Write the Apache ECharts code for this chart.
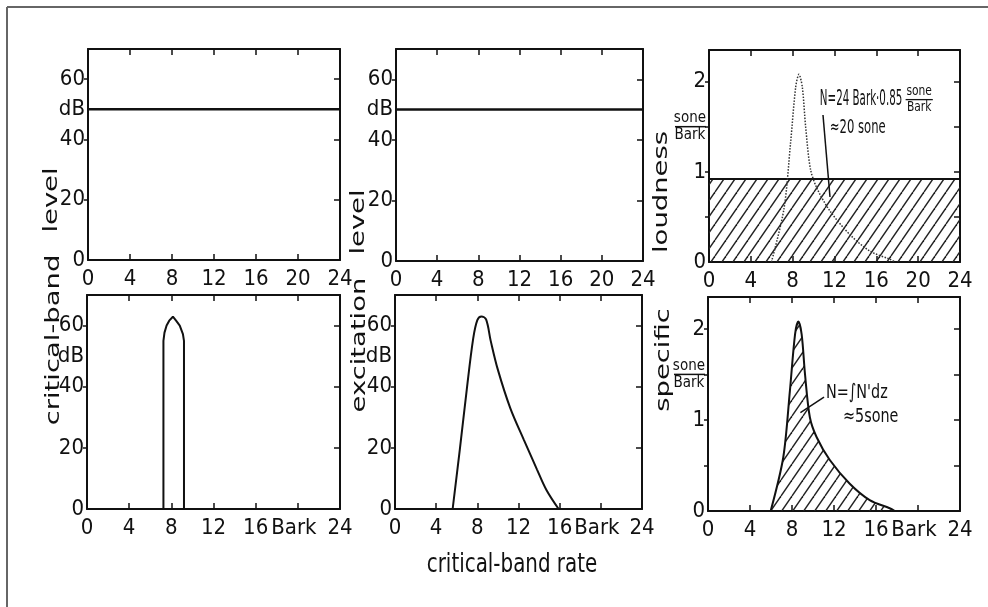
<!DOCTYPE html>
<html>
<head>
<meta charset="utf-8">
<script src="https://cdn.jsdelivr.net/npm/echarts@6/dist/echarts.min.js"></script>
<style>
  html, body { margin: 0; padding: 0; background: #fff; }
  #chart { width: 988px; height: 607px; }
</style>
</head>
<body>
<div id="chart"></div>
<script>
// critical-band rate axis (Bark)
var barkMin = 0, barkMax = 24, barkStep = 4;
var dbTicks = [20, 40, 60];
var dbLabels = [0, 20, 40, 50, 60];
var soneTicks = [0.5, 1, 1.5, 2];
var soneLabels = [0, 1, 1.5, 2];

// uniform exciting noise: flat level / excitation / specific loudness
var flatZ = [0, 24];
var flatDb = [50, 50];
var uniformN = [0.92, 0.92];

// narrow band noise: critical-band level
var bandZ = [7.25, 7.25, 7.35, 7.55, 7.8, 8.15, 8.45, 8.8, 9.1, 9.2, 9.2];
var bandDb = [0, 55, 57.7, 60, 61.6, 62.9, 61.6, 60, 57.2, 55, 0];

// narrow band noise: excitation level
var excZ = [5.6, 6.3, 6.97, 7.6, 8.0, 8.4, 8.85, 9.3, 10.0, 11.2, 12.5, 13.8, 14.7, 15.9];
var excDb = [0, 19.5, 39, 55.8, 61.8, 63, 62, 55, 45.5, 33, 22.8, 12.9, 6.3, 0];

// narrow band noise: specific loudness
var specZ = [5.97, 7.17, 7.8, 8.29, 8.6, 8.92, 9.24, 9.7, 10.35, 11.6, 13.5, 15.4, 17.3, 17.8];
var specN = [0, 0.59, 1.32, 1.94, 2.08, 1.94, 1.5, 1.03, 0.81, 0.56, 0.30, 0.12, 0.03, 0];

var FONT = "'DejaVu Sans Condensed', 'DejaVu Sans', sans-serif";
var INK = '#111';

// hatch pattern for the loudness areas
var hatch = (function () {
    var w = 11, h = 16;
    var c = document.createElement('canvas');
    c.width = w; c.height = h;
    var ctx = c.getContext('2d');
    ctx.strokeStyle = '#222';
    ctx.lineWidth = 1.4;
    [-w, 0, w].forEach(function (dx) {
        ctx.beginPath();
        ctx.moveTo(dx, h);
        ctx.lineTo(dx + w, 0);
        ctx.stroke();
    });
    return c;
})();

var grids = [
    { left: 88, top: 49, width: 252, height: 211 },
    { left: 396, top: 49, width: 247, height: 212 },
    { left: 709, top: 50, width: 251, height: 212 },
    { left: 87, top: 295, width: 253, height: 214 },
    { left: 395, top: 295, width: 247, height: 214 },
    { left: 708, top: 297, width: 252, height: 214 }
];

var axisLine = { show: true, onZero: false, lineStyle: { color: INK, width: 2 } };
var labelStyle = { color: INK, fontFamily: FONT, fontSize: 22 };

var xAxes = [], yAxes = [];
grids.forEach(function (g, i) {
    var bottomRow = i >= 3;
    var isSone = (i === 2 || i === 5);
    xAxes.push({
        type: 'value', gridIndex: i, position: 'bottom',
        min: barkMin, max: barkMax, interval: barkStep,
        axisLine: axisLine,
        axisTick: { show: true, inside: true, length: 6, lineStyle: { color: INK, width: 1.5 } },
        axisLabel: Object.assign({}, labelStyle, {
            margin: 8, showMinLabel: true, showMaxLabel: true,
            formatter: function (v) {
                if (bottomRow && v === 20) return '{bk|Bark}';
                return String(v);
            },
            rich: { bk: { fontFamily: FONT, fontSize: 22, color: INK, padding: [0, 8, 0, 0] } }
        }),
        splitLine: { show: false }
    });
    xAxes.push({
        type: 'value', gridIndex: i, position: 'top',
        min: barkMin, max: barkMax, interval: barkStep,
        axisLine: axisLine,
        axisTick: { show: true, inside: true, length: 6, lineStyle: { color: INK, width: 1.5 } },
        axisLabel: { show: false },
        splitLine: { show: false }
    });
    var ymax = isSone ? 2.35 : 70;
    var yint = isSone ? 0.5 : 10;
    var ticks = isSone ? soneTicks : dbTicks;
    yAxes.push({
        type: 'value', gridIndex: i, position: 'left',
        min: 0, max: ymax, interval: yint,
        axisLine: axisLine,
        axisTick: { show: true, inside: false, length: 4, customValues: ticks, lineStyle: { color: INK, width: 1.5 } },
        axisLabel: Object.assign({}, labelStyle, {
            margin: 3,
            customValues: isSone ? soneLabels : dbLabels,
            formatter: function (v) {
                if (!isSone && v === 50) return 'dB';
                if (isSone && v === 1.5) return '{s|sone}\n{l|}\n{s|Bark}';
                return String(v);
            },
            rich: {
                s: { fontFamily: FONT, fontSize: 15, color: INK, lineHeight: 14, align: 'center' },
                l: { width: 31, height: 1.5, lineHeight: 3, backgroundColor: INK }
            }
        }),
        splitLine: { show: false }
    });
    yAxes.push({
        type: 'value', gridIndex: i, position: 'right',
        min: 0, max: ymax, interval: yint,
        axisLine: axisLine,
        axisTick: { show: true, inside: true, length: 6, customValues: ticks, lineStyle: { color: INK, width: 1.5 } },
        axisLabel: { show: false },
        splitLine: { show: false }
    });
});

function pairs(xs, ys) {
    return xs.map(function (x, k) { return [x, ys[k]]; });
}

function lineSeries(i, data, extra) {
    return Object.assign({
        type: 'line', xAxisIndex: 2 * i, yAxisIndex: 2 * i,
        data: data, symbol: 'none', silent: true,
        lineStyle: { color: INK, width: 2 }
    }, extra || {});
}

var series = [
    lineSeries(0, pairs(flatZ, flatDb), { lineStyle: { color: INK, width: 2.5 } }),
    lineSeries(1, pairs(flatZ, flatDb), { lineStyle: { color: INK, width: 2.5 } }),
    lineSeries(2, pairs(flatZ, uniformN), { areaStyle: { color: { image: hatch, repeat: 'repeat' }, opacity: 1 } }),
    lineSeries(2, pairs(specZ, specN), { smooth: 0.3, lineStyle: { color: '#333', width: 1.5, type: 'dotted' } }),
    lineSeries(3, pairs(bandZ, bandDb)),
    lineSeries(4, pairs(excZ, excDb), { smooth: 0.35 }),
    lineSeries(5, pairs(specZ, specN), { smooth: 0.3, areaStyle: { color: { image: hatch, repeat: 'repeat' }, opacity: 1 } }),
    // leader lines of the notes
    lineSeries(2, [[10.9, 1.63], [11.57, 0.72]], { lineStyle: { color: INK, width: 1.5 } }),
    lineSeries(5, [[11.05, 1.25], [8.8, 1.08]], { lineStyle: { color: INK, width: 1.5 } })
];

var chart = echarts.init(document.getElementById('chart'));
chart.setOption({
    animation: false,
    backgroundColor: '#fff',
    grid: grids.map(function (g) { return Object.assign({ containLabel: false, show: false }, g); }),
    xAxis: xAxes,
    yAxis: yAxes,
    series: series
});

// notes, placed in data coordinates of their panel
var notes = [
    { grid: 2, at: [10.6, 1.8], text: 'N=24 Bark·0.85', size: 22, sx: 0.52, align: 'left' },
    { grid: 2, at: [20.1, 1.8], text: '{s|sone}\n{l|}\n{s|Bark}', size: 14, sx: 0.85, align: 'center' },
    { grid: 2, at: [11.55, 1.49], text: '≈20 sone', size: 19, sx: 0.68, align: 'left' },
    { grid: 5, at: [11.24, 1.3], text: "N=∫N'dz", size: 20, sx: 0.8, align: 'left' },
    { grid: 5, at: [12.86, 1.03], text: '≈5sone', size: 19, sx: 0.84, align: 'left' }
];

function vText(x, y, text) {
    return {
        type: 'text', x: x, y: y, rotation: Math.PI / 2, scaleX: 1.27, scaleY: 0.78,
        style: { text: text, font: '24px ' + FONT, fill: INK, align: 'center', verticalAlign: 'middle' }
    };
}

var graphics = [
    { type: 'line', shape: { x1: 7, y1: 7, x2: 988, y2: 7 }, style: { stroke: '#666', lineWidth: 2 } },
    { type: 'line', shape: { x1: 7, y1: 7, x2: 7, y2: 607 }, style: { stroke: '#666', lineWidth: 2 } },
    vText(54, 340, 'critical-band'),
    vText(52, 200, 'level'),
    vText(360, 345, 'excitation'),
    vText(359, 222, 'level'),
    vText(664, 360, 'specific'),
    vText(662, 192, 'loudness'),
    {
        type: 'text', x: 512, y: 565, scaleX: 0.85,
        style: { text: 'critical-band rate', font: '26px ' + FONT, fill: INK, align: 'center', verticalAlign: 'middle' }
    }
];

notes.forEach(function (n) {
    var p = chart.convertToPixel({ gridIndex: n.grid }, n.at);
    graphics.push({
        type: 'text', x: p[0], y: p[1], scaleX: n.sx,
        style: {
            text: n.text, font: n.size + 'px ' + FONT, fill: INK,
            align: n.align, verticalAlign: 'middle',
            rich: {
                s: { font: n.size + 'px ' + FONT, fill: INK, lineHeight: 13, align: 'center' },
                l: { width: 32, height: 1.3, lineHeight: 3, backgroundColor: INK }
            }
        }
    });
});

chart.setOption({ graphic: graphics });
</script>
</body>
</html>
